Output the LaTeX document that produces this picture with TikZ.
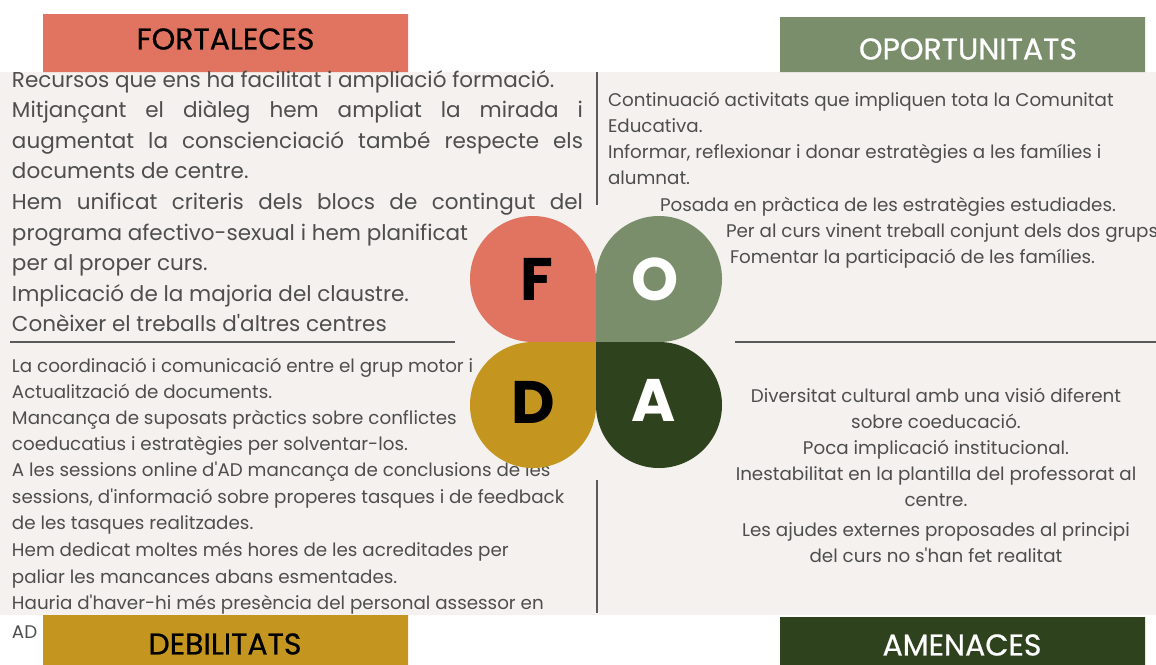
\documentclass[tikz,border=0pt]{standalone}
\usepackage{fontspec}
\setmainfont{Poppins}
\newfontfamily\hdrfont{Poppins}[FakeBold=0.7]
\usetikzlibrary{shapes.misc}
\newcommand{\ap}{\textquotesingle}
\definecolor{bgc}{RGB}{244,241,238}
\definecolor{fcol}{RGB}{224,116,96}
\definecolor{ocol}{RGB}{122,142,108}
\definecolor{dcol}{RGB}{196,150,32}
\definecolor{acol}{RGB}{47,66,30}
\definecolor{txt}{RGB}{78,78,78}
\definecolor{rule}{RGB}{90,90,90}
\tikzset{
  hdr/.style={chamfered rectangle, chamfered rectangle xsep=7pt, minimum width=365pt, minimum height=58pt, inner sep=0pt},
  hdrtext/.style={font=\hdrfont\fontsize{30}{32}\selectfont},
  big/.style={font=\fontsize{21.5}{24}\selectfont, text=txt, anchor=base west},
  sml/.style={font=\fontsize{18.3}{21}\selectfont, text=txt, anchor=base west},
  smc/.style={font=\fontsize{18.3}{21}\selectfont, text=txt, anchor=base},
  letter/.style={font=\fontsize{60}{60}\selectfont\bfseries},
  sep/.style={draw=rule, line width=2pt}
}
\begin{document}
\begin{tikzpicture}[x=1pt,y=-1pt, every node/.append style={inner sep=0pt, outer sep=0pt}]
\useasboundingbox (0,0) rectangle (1156,664);
\fill[white] (0,0) rectangle (1156,664);
\fill[bgc] (0,72) rectangle (1156,615);

% header boxes
\node[hdr, fill=fcol, chamfered rectangle corners={south west,south east}] (hF) at (225.5,43) {};
\node[hdrtext, text=black] (tF) at (225.5,39) {FORTALECES};
\node[hdr, fill=ocol, minimum height=55pt, chamfered rectangle corners={south west,south east}] (hO) at (962.5,44.5) {};
\node[hdrtext, text=white] (tO) at (968,49) {OPORTUNITATS};
\node[hdr, fill=dcol, minimum height=64pt, chamfered rectangle xsep=5pt, chamfered rectangle corners={north west,north east}] (hD) at (225.5,647) {};
\node[hdrtext, text=black] (tD) at (225,644) {DEBILITATS};
\node[hdr, fill=acol, minimum height=64pt, chamfered rectangle corners={north west,north east}] (hA) at (962.5,649) {};
\node[hdrtext, text=white] (tA) at (962,645) {AMENACES};

% separators
\coordinate (vt1) at (597,72); \coordinate (vt2) at (597,205);
\coordinate (vb1) at (597,480); \coordinate (vb2) at (597,613);
\coordinate (hl1) at (10,342); \coordinate (hl2) at (455,342);
\coordinate (hr1) at (735,342); \coordinate (hr2) at (1156,342);
\draw[sep] (vt1) -- (vt2);
\draw[sep] (vb1) -- (vb2);
\draw[sep] (hl1) -- (hl2);
\draw[sep] (hr1) -- (hr2);

% FORTALECES text
\node[big] (f1) at (12,87) {Recursos que ens ha facilitat i ampliació formació.};
\node[big] (f2) at (12,117.6) {\makebox[571pt][s]{Mitjançant el diàleg hem ampliat la mirada i}};
\node[big] (f3) at (12,148.2) {\makebox[571pt][s]{augmentat la conscienciació també respecte els}};
\node[big] (f4) at (12,178.8) {documents de centre.};
\node[big] (f5) at (12,209.4) {\makebox[571pt][s]{Hem unificat criteris dels blocs de contingut del}};
\node[big] (f6) at (12,240) {programa afectivo-sexual i hem planificat};
\node[big] (f7) at (12,270.6) {per al proper curs.};
\node[big] (f8) at (12,301.2) {Implicació de la majoria del claustre.};
\node[big] (f9) at (12,331.8) {Conèixer el treballs d\ap altres centres};

% OPORTUNITATS text
\node[sml] (o1) at (608,106) {Continuació activitats que impliquen tota la Comunitat};
\node[sml] (o2) at (608,132) {Educativa.};
\node[sml] (o3) at (608,158) {Informar, reflexionar i donar estratègies a les famílies i};
\node[sml] (o4) at (608,184) {alumnat.};
\node[sml] (o5) at (660,211) {Posada en pràctica de les estratègies estudiades.};
\node[sml] (o6) at (726,237) {Per al curs vinent treball conjunt dels dos grups};
\node[sml] (o7) at (730,263) {Fomentar la participació de les famílies.};

% DEBILITATS text
\node[sml] (d1) at (12,372) {La coordinació i comunicació entre el grup motor i};
\node[sml] (d2) at (12,398) {Actualització de documents.};
\node[sml] (d3) at (12,424) {Mancança de suposats pràctics sobre conflictes};
\node[sml] (d4) at (12,450) {coeducatius i estratègies per solventar-los.};
\node[sml] (d5) at (12,476) {A les sessions online d\ap AD mancança de conclusions de les};
\node[sml] (d6) at (12,503) {sessions, d\ap informació sobre properes tasques i de feedback};
\node[sml] (d7) at (12,529) {de les tasques realitzades.};
\node[sml] (d8) at (12,556) {Hem dedicat moltes més hores de les acreditades per};
\node[sml] (d9) at (12,583) {paliar les mancances abans esmentades.};
\node[sml] (d10) at (12,609) {Hauria d\ap haver-hi més presència del personal assessor en};
\node[sml] (d11) at (12,638) {AD};

% AMENACES text
\node[smc] (a1) at (936,402) {Diversitat cultural amb una visió diferent};
\node[smc] (a2) at (936,428) {sobre coeducació.};
\node[smc] (a3) at (936,454) {Poca implicació institucional.};
\node[smc] (a4) at (936,480) {Inestabilitat en la plantilla del professorat al};
\node[smc] (a5) at (936,506) {centre.};
\node[smc] (a6) at (936,536) {Les ajudes externes proposades al principi};
\node[smc] (a7) at (936,562) {del curs no s\ap han fet realitat};

% petals
\fill[fcol] (533,279) circle[radius=63]; \fill[fcol] (533,279) rectangle (596,342);
\fill[ocol] (659,279) circle[radius=63]; \fill[ocol] (596,279) rectangle (659,342);
\fill[dcol] (533,405) circle[radius=63]; \fill[dcol] (533,342) rectangle (596,405);
\fill[acol] (659,405) circle[radius=63]; \fill[acol] (596,342) rectangle (659,405);
\node[letter, text=black] (lF) at (537,279) {F};
\node[letter, text=white] (lO) at (655,279) {O};
\node[letter, text=black] (lD) at (533,402) {D};
\node[letter, text=white] (lA) at (654,400) {A};
\end{tikzpicture}
\end{document}
